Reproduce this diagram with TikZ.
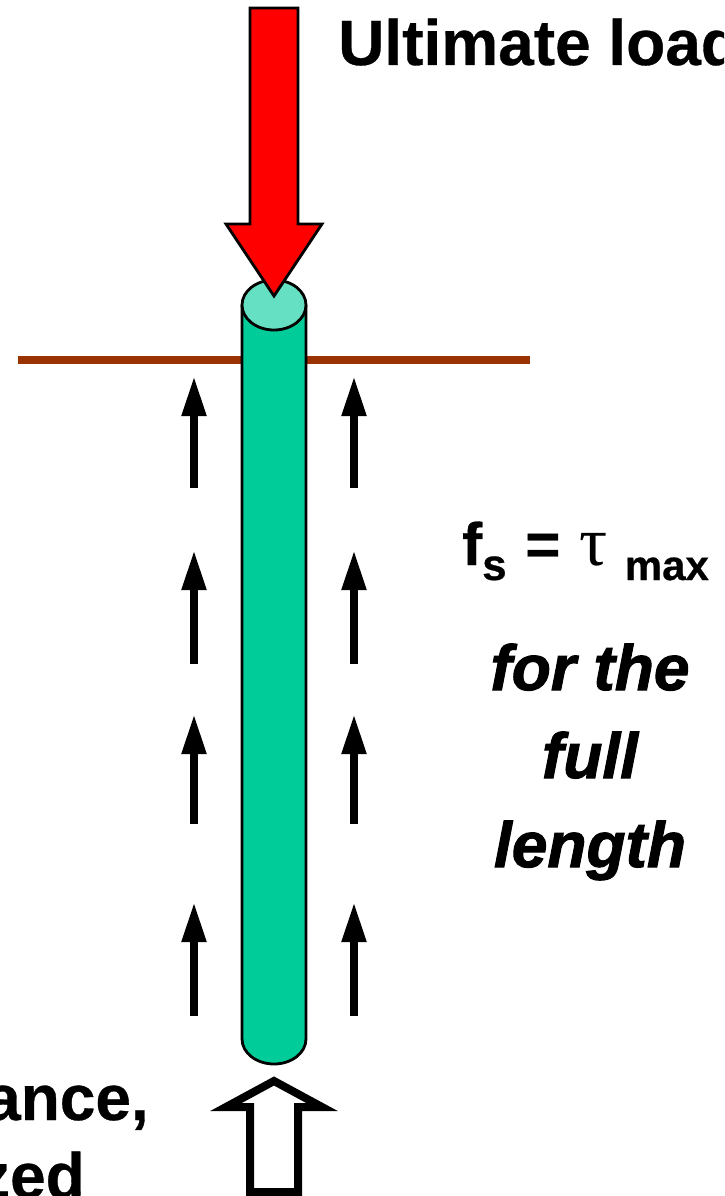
\documentclass[tikz,border=0pt]{standalone}
\usepackage{fontspec}
\setmainfont{Liberation Sans}
\newfontfamily\taufont{Liberation Serif}
\newfontfamily\heavyslant[BoldItalicFeatures={FakeBold=1.6}]{Liberation Sans}
\newfontfamily\heavyupright[BoldFeatures={FakeBold=0.5}]{Liberation Sans}
\usetikzlibrary{arrows.meta}
\definecolor{pilegreen}{HTML}{00CC99}
\definecolor{piletop}{HTML}{66E0C2}
\definecolor{groundbrown}{HTML}{993300}
\tikzset{
  shearup/.style={line width=8pt, -{Triangle[width=23pt,length=40pt]}},
  outline/.style={draw=black, line width=2.8pt, miter limit=10},
  bigtext/.style={inner sep=0pt, font=\fontsize{64}{64}\selectfont\heavyupright\bfseries},
  slanttext/.style={inner sep=0pt, anchor=base, font=\fontsize{64}{64}\selectfont\heavyslant\bfseries\itshape}
}
\begin{document}
\begin{tikzpicture}[x=1pt, y=-1pt]
        \useasboundingbox (0,0) rectangle (724,1196);
        \clip (0,0) rectangle (724,1196);

        % ground
        \fill[groundbrown] (18,356) rectangle (530,364);

        % pile
        \draw[outline, fill=pilegreen] (242,305) -- (242,1039) arc[start angle=180, end angle=0, x radius=32, y radius=25] -- (306,305);
        \draw[outline, fill=piletop] (274,305) ellipse[x radius=32, y radius=25];

        % load
        \draw[outline, fill=red] (250,8) -- (298,8) -- (298,224) -- (322,224) -- (274,296) -- (226,224) -- (250,224) -- cycle;
        \node[bigtext, anchor=base west] (ultimate) at (338,65) {Ultimate load};

        % shear arrows
        \foreach \x in {194,354} {
          \foreach \ybot/\ytop in {488/376, 664/550, 824/714, 1016/902} {
            \coordinate (from) at (\x,\ybot);
            \coordinate (to) at (\x,\ytop);
            \draw[shearup] (from) -- (to);
          }
        }

        % base
        \draw[line width=8pt, miter limit=20, fill=white] (250,1192) -- (250,1107) -- (226,1107) -- (274,1081) -- (322,1107) -- (298,1107) -- (298,1192) -- cycle;
        \node[bigtext, anchor=base east] (ance) at (149,1120) {ance,};
        \node[bigtext, anchor=base east] (zed) at (85,1198) {zed};

        % labels
        \node[inner sep=0pt, anchor=base west, font=\fontsize{60}{60}\selectfont\heavyupright\bfseries] (fs) at (462,565)
          {f\raisebox{-15pt}{\fontsize{44}{44}\selectfont s}\kern2pt{} = \kern2pt{\taufont\mdseries\fontsize{70}{70}\selectfont τ}\kern1pt{} \raisebox{-15pt}{\fontsize{42}{42}\selectfont max}};
        \node[slanttext] (forthe) at (590,690) {for the};
        \node[slanttext] (full) at (590,778) {full};
        \node[slanttext] (length) at (590,867) {length};
\end{tikzpicture}
\end{document}
